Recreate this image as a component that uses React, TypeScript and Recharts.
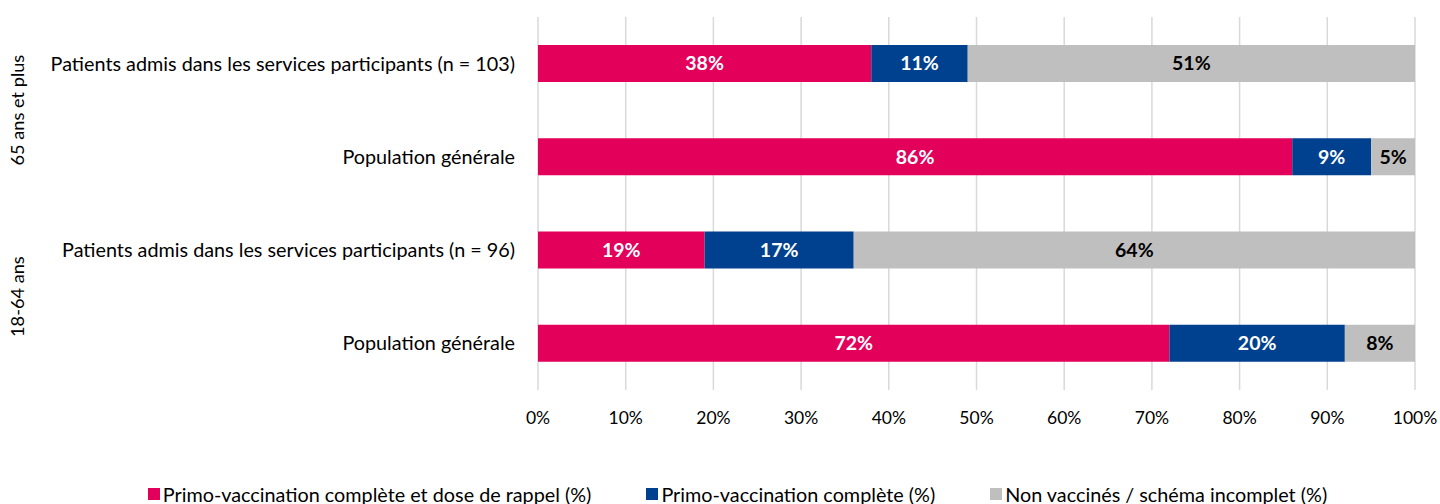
import { Bar, BarChart, CartesianGrid, LabelList, Legend, XAxis, YAxis } from "recharts";

const ROW_LABELS = [
  "Patients admis dans les services participants (n = 103)",
  "Population générale",
  "Patients admis dans les services participants (n = 96)",
  "Population générale",
];
const GROUP_LABELS = ["65 ans et plus", "18-64 ans"];
const BOOSTER = [38, 86, 19, 72];
const PRIMARY = [11, 9, 17, 20];
const UNVACCINATED = [51, 5, 64, 8];
const X_TICKS = [0, 10, 20, 30, 40, 50, 60, 70, 80, 90, 100];

const SERIES = [
  { key: "booster", name: "Primo-vaccination complète et dose de rappel (%)", color: "#E3005A", text: "#FFFFFF" },
  { key: "primary", name: "Primo-vaccination complète (%)", color: "#00418F", text: "#FFFFFF" },
  { key: "unvax", name: "Non vaccinés / schéma incomplet (%)", color: "#BFBFBF", text: "#000000" },
];

const data = ROW_LABELS.map((label, i) => ({
  id: `r${i}`,
  label,
  booster: BOOSTER[i],
  primary: PRIMARY[i],
  unvax: UNVACCINATED[i],
}));

const FONT = "Lato, 'Noto Sans', sans-serif";

function RowTick(props: any) {
  const { x, y, index } = props;
  const group = index % 2 === 0 ? GROUP_LABELS[index / 2] : null;
  return (
    <g>
      <text x={x - 21} y={y} dy="0.35em" textAnchor="end" fontSize={19.8} fill="#000" fontFamily={FONT}>
        {ROW_LABELS[index]}
      </text>
      {group && (
        <text
          x={18}
          y={y + 46.5}
          dy="0.35em"
          textAnchor="middle"
          fontSize={18.2}
          fill="#000"
          fontFamily={FONT}
          transform={`rotate(-90, 18, ${y + 46.5})`}
        >
          {group}
        </text>
      )}
    </g>
  );
}

function LegendContent() {
  return (
    <div
      style={{
        display: "flex",
        justifyContent: "center",
        gap: 55,
        fontFamily: FONT,
        fontSize: 19.8,
        paddingTop: 2,
        paddingLeft: 60,
      }}
    >
      {SERIES.map((s) => (
        <div key={s.key} style={{ display: "flex", alignItems: "center" }}>
          <span style={{ width: 12, height: 12, background: s.color, marginRight: 3, display: "inline-block" }} />
          <span>{s.name}</span>
        </div>
      ))}
    </div>
  );
}

export default function App() {
  return (
    <div style={{ width: 1440, height: 504, background: "#fff" }}>
      <style>{`body{margin:0}`}</style>
      <BarChart
        width={1440}
        height={504}
        data={data}
        layout="vertical"
        margin={{ top: 17, right: 25, left: 0, bottom: 0 }}
      >
        <CartesianGrid horizontal={false} stroke="#D9D9D9" strokeWidth={1.5} />
        <XAxis
          type="number"
          domain={[0, 100]}
          ticks={X_TICKS}
          tickFormatter={(v) => `${v}%`}
          axisLine={false}
          tickLine={false}
          tickSize={0}
          tickMargin={22}
          height={90}
          interval={0}
          tick={{ fontSize: 17.5, fill: "#000", fontFamily: FONT }}
        />
        <YAxis
          type="category"
          dataKey="id"
          width={538}
          axisLine={false}
          tickLine={false}
          tickSize={0}
          interval={0}
          tick={<RowTick />}
        />
        <Legend verticalAlign="bottom" height={24} content={<LegendContent />} />
        {SERIES.map((s) => (
          <Bar key={s.key} dataKey={s.key} name={s.name} stackId="a" fill={s.color} barSize={37} isAnimationActive={false}>
            <LabelList
              dataKey={s.key}
              position="center"
              formatter={(v: any) => `${v}%`}
              style={{ fontSize: 19.5, fontWeight: 700, fill: s.text, fontFamily: FONT }}
            />
          </Bar>
        ))}
      </BarChart>
    </div>
  );
}
